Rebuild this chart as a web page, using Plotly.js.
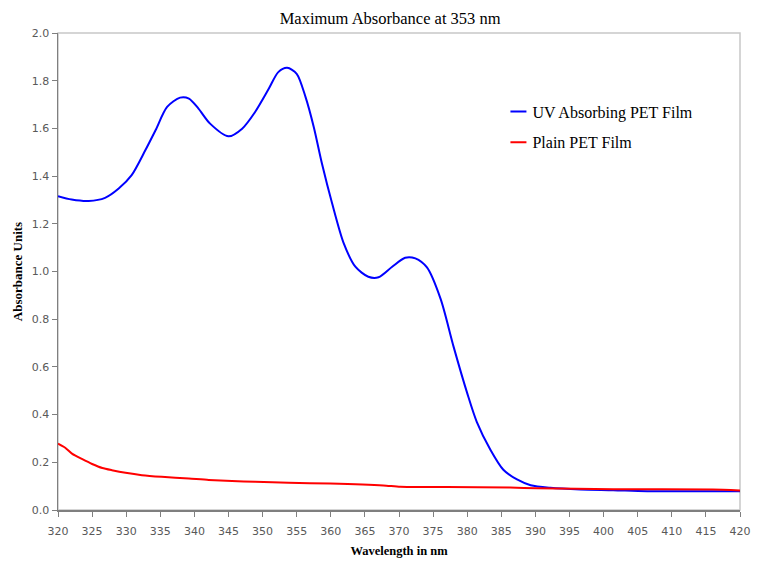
<!DOCTYPE html>
<html>
<head>
<meta charset="utf-8">
<script src="https://cdn.plot.ly/plotly-3.0.1.min.js"></script>
<style>html,body{margin:0;padding:0;background:#fff;}#chart{width:762px;height:561px;}</style>
</head>
<body>
<div id="chart"></div>
<script>
// UV Absorbing PET Film (blue)
const uvWavelength = [320, 322, 324.5, 326.9, 328.9, 330.8, 332.8, 334.3, 336.0, 337.9, 339.2, 340.6, 342.3, 345.0, 347.0, 348.9, 350.9, 352.3, 353.6, 355.0, 356.3, 357.5, 358.7, 360.2, 361.9, 363.6, 365.5, 367.0, 369.0, 370.9, 372.4, 374.1, 376.1, 378.0, 380.0, 381.4, 383.4, 385.3, 387.3, 389.3, 392.2, 396.6, 401.4, 406.4, 420];
const uvAbsorbance = [1.316, 1.302, 1.296, 1.309, 1.348, 1.404, 1.508, 1.592, 1.690, 1.729, 1.725, 1.683, 1.620, 1.567, 1.599, 1.669, 1.766, 1.836, 1.854, 1.829, 1.731, 1.606, 1.453, 1.285, 1.118, 1.020, 0.978, 0.976, 1.020, 1.058, 1.055, 1.017, 0.885, 0.685, 0.490, 0.370, 0.253, 0.169, 0.128, 0.104, 0.093, 0.086, 0.083, 0.079, 0.079];
// Plain PET Film (red)
const plainWavelength = [320, 321.1, 322.1, 323.5, 325.0, 326.5, 327.9, 329.9, 332.3, 335.2, 339.2, 342.1, 345.5, 348.9, 353.8, 359.9, 367.7, 370.2, 377.0, 386.3, 390.2, 401.4, 416, 420];
const plainAbsorbance = [0.278, 0.260, 0.235, 0.214, 0.193, 0.176, 0.167, 0.156, 0.146, 0.139, 0.132, 0.126, 0.122, 0.118, 0.114, 0.111, 0.103, 0.097, 0.096, 0.094, 0.091, 0.087, 0.086, 0.082];
const seriesNames = ["UV Absorbing PET Film", "Plain PET Film"];
const xTicks = [320, 325, 330, 335, 340, 345, 350, 355, 360, 365, 370, 375, 380, 385, 390, 395, 400, 405, 410, 415, 420];
const yTicks = [0, 0.2, 0.4, 0.6, 0.8, 1.0, 1.2, 1.4, 1.6, 1.8, 2.0];

const traces = [
  {x: uvWavelength, y: uvAbsorbance, name: seriesNames[0], legendgroup: "a", mode: "lines", line: {color: "#0000ff", width: 2, shape: "spline", smoothing: 0.8}},
  {x: plainWavelength, y: plainAbsorbance, name: seriesNames[1], legendgroup: "b", mode: "lines", line: {color: "#ff0000", width: 2, shape: "spline", smoothing: 0.6}}
];

const serif = "Liberation Serif, Times New Roman, serif";
const tickFont = {family: "DejaVu Sans, Verdana, sans-serif", size: 11, color: "#595959"};
const layout = {
  width: 762, height: 561,
  margin: {l: 58, r: 22, t: 33, b: 51},
  paper_bgcolor: "#ffffff", plot_bgcolor: "#ffffff",
  title: {text: "Maximum Absorbance at 353 nm", font: {family: serif, size: 16.5, color: "#000"}, x: 0.512, xanchor: "center", y: 0.968, yanchor: "middle"},
  xaxis: {range: [320, 420], tickvals: xTicks, ticktext: xTicks.map(String), showgrid: false, zeroline: false,
    showline: true, linecolor: "#7f7f7f", linewidth: 1.5, ticks: "outside", ticklen: 5, tickcolor: "#7f7f7f", tickfont: tickFont, ticklabelstandoff: 5,
    title: {text: "<b>Wavelength in nm</b>", font: {family: serif, size: 12.5, color: "#000"}, standoff: 9}},
  yaxis: {range: [0, 2], tickvals: yTicks, ticktext: yTicks.map(v => v.toFixed(1)), showgrid: false, zeroline: false,
    showline: true, linecolor: "#7f7f7f", linewidth: 1.5, ticks: "outside", ticklen: 5, tickcolor: "#7f7f7f", tickfont: tickFont,
    title: {text: "<b>Absorbance Units</b>", font: {family: serif, size: 13, color: "#000"}, standoff: 6}},
  showlegend: true,
  legend: {x: 0.637, y: 0.871, xanchor: "left", yanchor: "top", bgcolor: "rgba(0,0,0,0)", itemwidth: 30, tracegroupgap: 7,
    font: {family: serif, size: 16, color: "#000"}},
  shapes: [{type: "rect", xref: "paper", yref: "paper", x0: 0, x1: 1, y0: 0, y1: 1, line: {color: "#c8c8c8", width: 1.5}, layer: "below"}]
};

Plotly.newPlot("chart", traces, layout, {staticPlot: true}).then(function () {
  // shorter legend line samples, as in the original chart
  document.querySelectorAll(".legend .legendlines path").forEach(function (p) {
    p.setAttribute("d", "M18,0h16");
  });
});
</script>
</body>
</html>
